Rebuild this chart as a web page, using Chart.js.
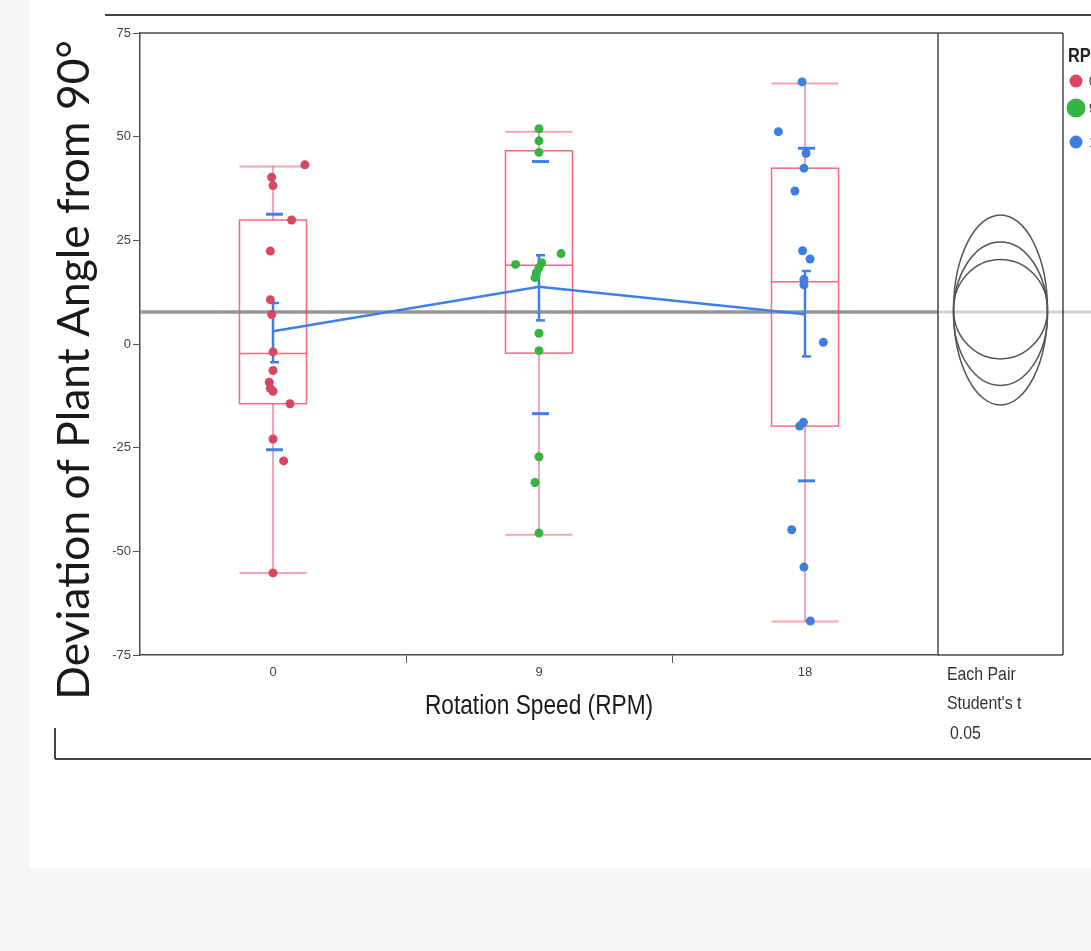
<!DOCTYPE html>
<html>
<head>
<meta charset="utf-8">
<title>Deviation of Plant Angle by Rotation Speed</title>
<script src="https://cdn.jsdelivr.net/npm/chart.js@4/dist/chart.umd.min.js"></script>
<style>
  html, body { margin: 0; padding: 0; background: #f6f6f6; }
  #wrap { width: 1091px; height: 951px; }
</style>
</head>
<body>
<div id="wrap"><canvas id="chart" width="1091" height="951"></canvas></div>
<script>
const categories = ['0', '9', '18'];

// raw points per RPM group, jitter is the horizontal offset inside the group
const values0 = [43.2, 40.2, 38.2, 29.9, 22.4, 10.7, 7.1, -1.9, -6.4, -9.2, -10.7, -11.4, -14.4, -22.9, -28.2, -55.2];
const jitter0 = [0.12, -0.005, 0, 0.07, -0.01, -0.01, -0.005, 0, 0, -0.014, -0.01, 0, 0.064, 0, 0.04, 0];
const values9 = [51.9, 49.0, 46.2, 21.8, 19.6, 19.2, 18.4, 17.2, 16.0, 2.6, -1.6, -27.2, -33.4, -45.6];
const jitter9 = [0, 0, 0, 0.083, 0.01, -0.088, 0, -0.01, -0.015, 0, 0, 0, -0.015, 0];
const values18 = [63.2, 51.2, 46.0, 42.4, 36.9, 22.5, 20.5, 15.6, 14.3, 0.4, -18.9, -19.8, -44.8, -53.8, -66.8];
const jitter18 = [-0.011, -0.1, 0.004, -0.004, -0.038, -0.009, 0.019, -0.004, -0.004, 0.069, -0.006, -0.02, -0.05, -0.004, 0.02];

const boxQ1 = [-14.4, -2.2, -19.8];
const boxMedian = [-2.3, 19.0, 15.0];
const boxQ3 = [29.9, 46.6, 42.4];
const whiskerLow = [-55.2, -46.0, -66.9];
const whiskerHigh = [42.8, 51.2, 62.8];

const means = [3.1, 13.8, 7.2];
const ciLow = [-4.4, 5.7, -3.0];
const ciHigh = [9.9, 21.4, 17.6];
const sdLow = [-25.5, -16.8, -33.0];
const sdHigh = [31.3, 44.0, 47.2];

const grandMean = 7.7;
const circleCenters = [8.2, 7.3, 8.4];
const circleRadii = [22.9, 17.3, 12.0];

const groupColors = ['#d8475f', '#35b443', '#3f7de0'];
const sans = "'Liberation Sans', Arial, sans-serif";

function line(c, x1, y1, x2, y2) {
  c.beginPath();
  c.moveTo(x1, y1);
  c.lineTo(x2, y2);
  c.stroke();
}

// no narrow font installed, so squeeze the text horizontally
function narrowText(c, text, x, y, sx) {
  c.save();
  c.translate(x, y);
  c.scale(sx, 1);
  c.fillText(text, 0, 0);
  c.restore();
}

const groups = [[values0, jitter0], [values9, jitter9], [values18, jitter18]];

const jmpDecor = {
  id: 'jmpDecor',
  beforeDraw(chart) {
    const c = chart.ctx;
    c.save();
    c.fillStyle = '#f6f6f6';
    c.fillRect(0, 0, chart.width, chart.height);
    c.fillStyle = '#ffffff';
    c.fillRect(30, 0, chart.width - 30, 868);
    c.restore();
  },
  beforeDatasetsDraw(chart) {
    const { ctx: c, chartArea: a, scales: { x, y } } = chart;
    const panelRight = a.right + 125;
    c.save();

    // grand mean line
    const gy = y.getPixelForValue(grandMean);
    c.strokeStyle = '#d4d4d4';
    c.lineWidth = 3;
    line(c, a.right, gy, chart.width, gy);
    c.strokeStyle = '#959595';
    c.lineWidth = 3.5;
    line(c, a.left, gy, a.right, gy);

    // box plots
    const half = 0.126;
    for (let i = 0; i < categories.length; i++) {
      const cx = x.getPixelForValue(i);
      const l = x.getPixelForValue(i - half);
      const r = x.getPixelForValue(i + half);
      const wh = y.getPixelForValue(whiskerHigh[i]);
      const wl = y.getPixelForValue(whiskerLow[i]);
      const q1 = y.getPixelForValue(boxQ1[i]);
      const q3 = y.getPixelForValue(boxQ3[i]);
      const md = y.getPixelForValue(boxMedian[i]);
      c.strokeStyle = 'rgba(240, 90, 115, 0.55)';
      c.lineWidth = 2;
      line(c, cx, wh, cx, q3);
      line(c, cx, q1, cx, wl);
      line(c, l, wh, r, wh);
      line(c, l, wl, r, wl);
      c.strokeStyle = 'rgba(238, 80, 108, 0.85)';
      c.lineWidth = 1.5;
      c.strokeRect(l, q3, r - l, q1 - q3);
      line(c, l, md, r, md);

      // CI bar and std dev dashes
      c.strokeStyle = '#3d80ea';
      c.lineWidth = 2.5;
      const lo = y.getPixelForValue(ciLow[i]);
      const hi = y.getPixelForValue(ciHigh[i]);
      line(c, cx, lo, cx, hi);
      line(c, cx - 3, lo, cx + 6, lo);
      line(c, cx - 3, hi, cx + 6, hi);
      c.lineWidth = 3;
      line(c, cx - 7, y.getPixelForValue(sdLow[i]), cx + 10, y.getPixelForValue(sdLow[i]));
      line(c, cx - 7, y.getPixelForValue(sdHigh[i]), cx + 10, y.getPixelForValue(sdHigh[i]));
    }

    // comparison circles panel
    const pcx = (a.right + panelRight) / 2;
    c.strokeStyle = '#555';
    c.lineWidth = 1.5;
    for (let i = 0; i < circleCenters.length; i++) {
      const top = y.getPixelForValue(circleCenters[i] + circleRadii[i]);
      const bot = y.getPixelForValue(circleCenters[i] - circleRadii[i]);
      c.beginPath();
      c.ellipse(pcx, (top + bot) / 2, 47, (bot - top) / 2, 0, 0, Math.PI * 2);
      c.stroke();
    }
    c.restore();
  },
  afterDraw(chart) {
    const { ctx: c, chartArea: a } = chart;
    const panelRight = a.right + 125;
    c.save();
    c.strokeStyle = '#4a4a4a';
    c.lineWidth = 1.5;
    line(c, a.left, a.top, panelRight, a.top);
    line(c, a.right, a.top, a.right, a.bottom);
    line(c, panelRight, a.top, panelRight, a.bottom);
    line(c, a.right, a.bottom, panelRight, a.bottom);

    // outer frame
    c.strokeStyle = '#444';
    c.lineWidth = 2;
    line(c, 105, 15, chart.width, 15);
    line(c, 55, 759, chart.width, 759);
    line(c, 55, 728, 55, 759);

    // axis titles
    c.fillStyle = '#1a1a1a';
    c.textBaseline = 'alphabetic';
    c.textAlign = 'center';
    c.font = "27px " + sans;
    narrowText(c, 'Rotation Speed (RPM)', (a.left + a.right) / 2, 714, 0.84);

    const yTitle = 'Deviation of Plant Angle from 90°';
    c.font = "36px Lato, 'Open Sans', sans-serif";
    const w = c.measureText(yTitle).width;
    const size = 36 * 660 / w;
    c.font = size.toFixed(1) + "px Lato, 'Open Sans', sans-serif";
    c.save();
    c.translate(89, 370);
    c.rotate(-Math.PI / 2);
    c.fillText(yTitle, 0, 0);
    c.restore();

    // panel caption
    c.fillStyle = '#333';
    c.textAlign = 'left';
    c.font = "18px " + sans;
    narrowText(c, 'Each Pair', a.right + 9, 680, 0.88);
    narrowText(c, "Student's t", a.right + 9, 709, 0.88);
    narrowText(c, '0.05', a.right + 12, 739, 0.88);

    // legend, partly cut off by the right edge
    c.fillStyle = '#222';
    c.font = "bold 20px " + sans;
    narrowText(c, 'RPM', 1068, 62, 0.82);
    const dots = [[81, 6.5], [108, 9.5], [142, 6.5]];
    dots.forEach(([dy, r], i) => {
      c.fillStyle = groupColors[i];
      c.beginPath();
      c.arc(1076, dy, r, 0, Math.PI * 2);
      c.fill();
      c.fillStyle = '#333';
      c.font = "15px " + sans;
      narrowText(c, categories[i], 1089, dy + 5, 0.85);
    });
    c.restore();
  }
};

const ctx = document.getElementById('chart').getContext('2d');
new Chart(ctx, {
  data: {
    datasets: [
      ...groups.map(([vals, jit], g) => ({
        type: 'scatter',
        label: categories[g],
        data: vals.map((v, i) => ({ x: g + jit[i], y: v })),
        backgroundColor: groupColors[g],
        borderWidth: 0,
        pointRadius: 4.5,
        order: 1
      })),
      {
        type: 'line',
        label: 'Mean',
        data: means.map((m, i) => ({ x: i, y: m })),
        borderColor: '#3d80ea',
        borderWidth: 2.5,
        pointRadius: 0,
        order: 5
      }
    ]
  },
  options: {
    responsive: false,
    animation: false,
    devicePixelRatio: 1,
    layout: { padding: { top: 33, right: 153, bottom: 176, left: 0 } },
    plugins: { legend: { display: false }, tooltip: { enabled: false } },
    scales: {
      x: {
        type: 'linear',
        min: -0.5,
        max: 2.5,
        afterFit: scale => { scale.height = 120; },
        afterBuildTicks: scale => {
          scale.ticks = [-0.5, 0, 0.5, 1, 1.5, 2, 2.5].map(v => ({ value: v }));
        },
        ticks: {
          autoSkip: false,
          maxRotation: 0,
          padding: 2,
          color: '#444',
          font: { family: sans, size: 13 },
          callback: v => Number.isInteger(v) ? categories[v] : ''
        },
        grid: {
          drawOnChartArea: false,
          tickLength: 8,
          color: c => (c.tick && (c.tick.value === 0.5 || c.tick.value === 1.5)) ? '#555' : 'rgba(0,0,0,0)'
        },
        border: { color: '#4a4a4a', width: 1.5 }
      },
      y: {
        min: -75,
        max: 75,
        afterFit: scale => { scale.width = 140; },
        ticks: {
          stepSize: 25,
          padding: 2,
          color: '#444',
          font: { family: sans, size: 13 }
        },
        grid: { drawOnChartArea: false, tickLength: 7, color: '#555' },
        border: { color: '#4a4a4a', width: 1.5 }
      }
    }
  },
  plugins: [jmpDecor]
});
</script>
</body>
</html>
